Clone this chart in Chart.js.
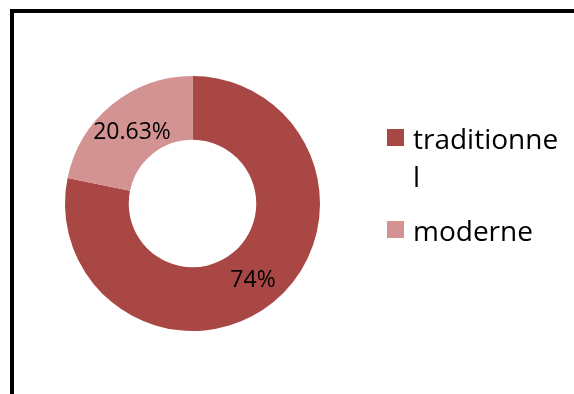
<!DOCTYPE html>
<html>
<head>
<meta charset="utf-8">
<script src="https://cdn.jsdelivr.net/npm/chart.js@4"></script>
<style>
    body { margin: 0; background: #fff; font-family: "Open Sans", sans-serif; }
    #frame { position: absolute; left: 10px; top: 9px; width: 620px; height: 440px; border: 4px solid #000; }
    #wrap { position: absolute; left: 0; top: 0; width: 574px; height: 394px; }
    #legend { position: absolute; left: 387px; top: 119px; margin: 0; padding: 0; list-style: none; }
    #legend li { display: flex; align-items: flex-start; margin-bottom: 16px; }
    #legend .box { width: 17px; height: 17px; margin-top: 10px; margin-right: 9px; flex: none; }
    #legend .txt { font-size: 28px; line-height: 38px; color: #000; width: 149px; word-break: break-all; }
</style>
</head>
<body>
<div id="frame"></div>
<div id="wrap"><canvas id="ChartStyle" width="574" height="394"></canvas></div>
<ul id="legend"></ul>
<script>
const categories = ['traditionnel', 'moderne'];
const values = [74, 20.63];
const colors = ['#A94744', '#D39392'];

// writes the value of each slice at the middle of its arc
const sliceLabels = {
    id: 'sliceLabels',
    afterDatasetsDraw(chart) {
        const ctx = chart.ctx;
        const meta = chart.getDatasetMeta(0);
        ctx.save();
        ctx.font = '23px "Open Sans"';
        ctx.fillStyle = '#000';
        ctx.textAlign = 'center';
        ctx.textBaseline = 'middle';
        meta.data.forEach(function(arc, i){
            const p = arc.tooltipPosition();
            ctx.fillText(values[i] + '%', p.x, p.y + 3);
        });
        ctx.restore();
    }
};

const ctx = document.getElementById('ChartStyle');
let ChartStyle = new Chart(ctx, {
    type: 'doughnut',
    data: {
        labels: categories,
        datasets: [{
            data: values,
            backgroundColor: colors,
            borderWidth: 0
        }]
    },
    options: {
        responsive: false,
        animation: false,
        cutout: '50%',
        layout: {
            padding: { left: 65, top: 76, right: 254, bottom: 63 }
        },
        plugins: {
            legend: false,
            tooltip: { enabled: false }
        }
    },
    plugins: [sliceLabels]
});

// legend on the right, built from the same arrays
const legend = document.getElementById('legend');
categories.forEach(function(name, i){
    const li = document.createElement('li');
    const box = document.createElement('span');
    box.className = 'box';
    box.style.background = colors[i];
    const txt = document.createElement('span');
    txt.className = 'txt';
    txt.textContent = name;
    li.appendChild(box);
    li.appendChild(txt);
    legend.appendChild(li);
});
</script>
</body>
</html>
